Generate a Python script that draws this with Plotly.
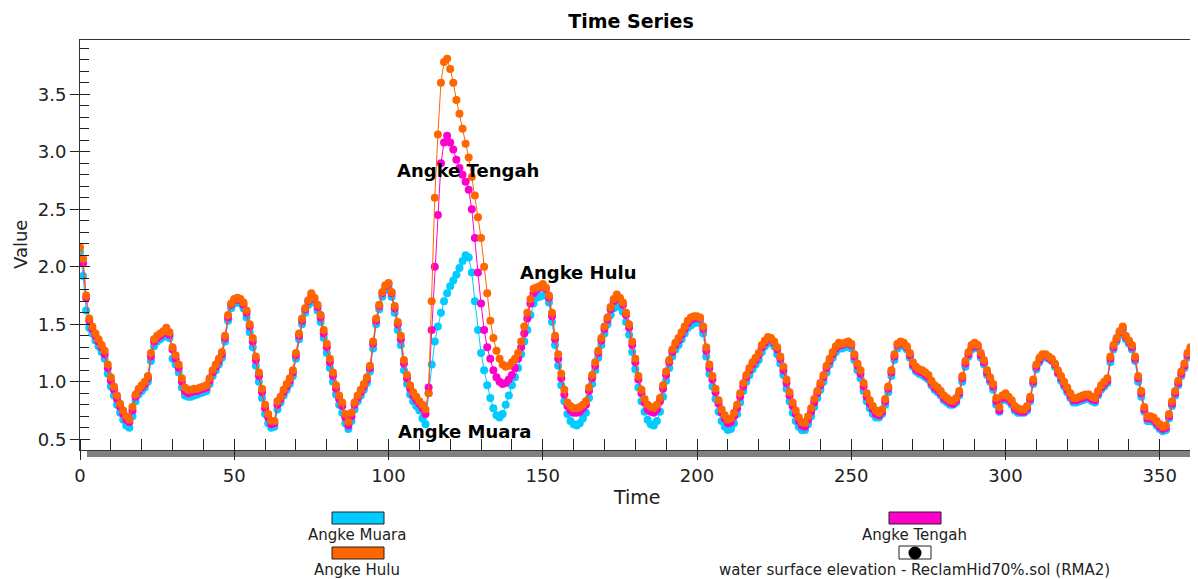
import plotly.graph_objects as go

# ---------------- data ----------------
time = list(range(0, 361))

angke_hulu = [
    2.17, 2.07, 1.75, 1.55, 1.48, 1.42, 1.37, 1.32, 1.27, 1.15,
    1.04, 0.96, 0.88, 0.81, 0.75, 0.70, 0.67, 0.78, 0.89, 0.94,
    0.97, 1.00, 1.05, 1.25, 1.37, 1.40, 1.42, 1.44, 1.47, 1.43,
    1.30, 1.23, 1.15, 1.03, 0.95, 0.93, 0.93, 0.94, 0.94, 0.95,
    0.96, 0.97, 1.03, 1.10, 1.15, 1.20, 1.26, 1.40, 1.58, 1.68,
    1.72, 1.73, 1.72, 1.69, 1.62, 1.50, 1.38, 1.22, 1.08, 0.94,
    0.80, 0.72, 0.66, 0.66, 0.83, 0.87, 0.93, 0.98, 1.03, 1.10,
    1.25, 1.42, 1.55, 1.64, 1.71, 1.77, 1.73, 1.67, 1.58, 1.45,
    1.33, 1.20, 1.08, 0.97, 0.88, 0.82, 0.72, 0.65, 0.73, 0.82,
    0.88, 0.93, 0.98, 1.04, 1.14, 1.35, 1.55, 1.67, 1.78, 1.84,
    1.86, 1.78, 1.66, 1.52, 1.40, 1.19, 1.06, 0.97, 0.91, 0.87,
    0.83, 0.80, 0.76, 0.90, 1.70, 2.60, 3.15, 3.60, 3.78, 3.81,
    3.72, 3.60, 3.45, 3.33, 3.20, 3.07, 2.95, 2.78, 2.62, 2.43,
    2.25, 2.00, 1.77, 1.53, 1.38, 1.27, 1.20, 1.15, 1.13, 1.14,
    1.17, 1.20, 1.25, 1.35, 1.48, 1.60, 1.72, 1.81, 1.82, 1.83,
    1.85, 1.82, 1.75, 1.60, 1.40, 1.24, 1.07, 0.93, 0.82, 0.79,
    0.77, 0.77, 0.78, 0.80, 0.83, 0.95, 1.06, 1.17, 1.27, 1.38,
    1.48, 1.56, 1.65, 1.72, 1.76, 1.73, 1.69, 1.60, 1.50, 1.35,
    1.20, 1.05, 0.93, 0.85, 0.80, 0.78, 0.77, 0.80, 0.86, 0.97,
    1.09, 1.19, 1.28, 1.34, 1.38, 1.43, 1.48, 1.53, 1.56, 1.57,
    1.57, 1.56, 1.48, 1.30, 1.15, 1.05, 0.94, 0.84, 0.76, 0.71,
    0.67, 0.68, 0.73, 0.80, 0.90, 0.99, 1.06, 1.12, 1.17, 1.21,
    1.25, 1.32, 1.36, 1.39, 1.38, 1.35, 1.30, 1.22, 1.13, 1.02,
    0.91, 0.82, 0.75, 0.69, 0.65, 0.64, 0.70, 0.77, 0.85, 0.92,
    0.99, 1.06, 1.14, 1.20, 1.26, 1.31, 1.34, 1.33, 1.34, 1.35,
    1.33, 1.24, 1.16, 1.10, 0.99, 0.90, 0.84, 0.79, 0.75, 0.73,
    0.76, 0.85, 0.96, 1.10, 1.24, 1.33, 1.35, 1.34, 1.31, 1.25,
    1.17, 1.13, 1.11, 1.10, 1.08, 1.06, 1.01, 0.97, 0.95, 0.92,
    0.88, 0.86, 0.84, 0.83, 0.86, 0.92, 1.05, 1.18, 1.26, 1.32,
    1.34, 1.32, 1.25, 1.19, 1.10, 1.04, 0.98, 0.86, 0.78, 0.88,
    0.90, 0.87, 0.84, 0.79, 0.77, 0.76, 0.76, 0.79, 0.87, 1.02,
    1.15, 1.21, 1.24, 1.24, 1.22, 1.20, 1.16, 1.10, 1.05, 1.00,
    0.95, 0.90, 0.86, 0.86, 0.87, 0.88, 0.89, 0.89, 0.87, 0.86,
    0.92, 0.97, 1.00, 1.03, 1.22, 1.32, 1.38, 1.44, 1.48, 1.40,
    1.36, 1.32, 1.22, 1.05, 0.92, 0.78, 0.70, 0.70, 0.69, 0.66,
    0.63, 0.61, 0.62, 0.72, 0.83, 0.92, 1.01, 1.09, 1.16, 1.25, 1.30,
]

angke_tengah = [
    2.05, 2.03, 1.73, 1.53, 1.46, 1.40, 1.35, 1.30, 1.24, 1.12,
    1.01, 0.93, 0.85, 0.78, 0.72, 0.67, 0.65, 0.75, 0.87, 0.92,
    0.95, 0.98, 1.03, 1.22, 1.35, 1.38, 1.40, 1.42, 1.45, 1.41,
    1.28, 1.20, 1.12, 1.00, 0.92, 0.90, 0.91, 0.92, 0.92, 0.93,
    0.94, 0.95, 1.01, 1.08, 1.13, 1.18, 1.24, 1.38, 1.56, 1.67,
    1.71, 1.72, 1.71, 1.67, 1.60, 1.48, 1.35, 1.19, 1.05, 0.91,
    0.77, 0.69, 0.63, 0.64, 0.80, 0.85, 0.91, 0.96, 1.01, 1.08,
    1.23, 1.40, 1.53, 1.63, 1.70, 1.76, 1.72, 1.65, 1.56, 1.42,
    1.30, 1.17, 1.05, 0.94, 0.85, 0.79, 0.69, 0.62, 0.70, 0.80,
    0.86, 0.91, 0.96, 1.02, 1.12, 1.33, 1.53, 1.66, 1.77, 1.83,
    1.85, 1.77, 1.64, 1.50, 1.37, 1.16, 1.03, 0.94, 0.88, 0.84,
    0.81, 0.77, 0.72, 0.95, 1.45, 2.00, 2.45, 2.90, 3.08, 3.14,
    3.08, 3.02, 2.93, 2.86, 2.80, 2.74, 2.67, 2.50, 2.25, 1.95,
    1.68, 1.45, 1.30, 1.20, 1.10, 1.04, 1.00, 0.98, 0.99, 1.02,
    1.06, 1.12, 1.20, 1.30, 1.42, 1.55, 1.68, 1.77, 1.80, 1.82,
    1.84, 1.81, 1.73, 1.57, 1.37, 1.20, 1.03, 0.89, 0.79, 0.75,
    0.73, 0.73, 0.74, 0.77, 0.80, 0.92, 1.03, 1.14, 1.25, 1.36,
    1.46, 1.54, 1.63, 1.70, 1.74, 1.72, 1.67, 1.58, 1.47, 1.32,
    1.17, 1.02, 0.90, 0.82, 0.76, 0.74, 0.73, 0.76, 0.83, 0.94,
    1.06, 1.17, 1.26, 1.32, 1.36, 1.41, 1.46, 1.51, 1.54, 1.55,
    1.56, 1.55, 1.46, 1.27, 1.12, 1.02, 0.91, 0.81, 0.73, 0.68,
    0.64, 0.65, 0.70, 0.77, 0.87, 0.96, 1.04, 1.10, 1.15, 1.19,
    1.23, 1.30, 1.34, 1.37, 1.37, 1.34, 1.28, 1.20, 1.10, 0.99,
    0.88, 0.79, 0.72, 0.66, 0.62, 0.61, 0.67, 0.74, 0.82, 0.90,
    0.97, 1.04, 1.12, 1.18, 1.24, 1.29, 1.32, 1.32, 1.33, 1.34,
    1.32, 1.22, 1.14, 1.07, 0.96, 0.87, 0.81, 0.76, 0.72, 0.71,
    0.74, 0.83, 0.94, 1.08, 1.22, 1.32, 1.34, 1.33, 1.30, 1.23,
    1.15, 1.11, 1.09, 1.08, 1.06, 1.04, 0.99, 0.95, 0.93, 0.90,
    0.86, 0.84, 0.82, 0.81, 0.84, 0.90, 1.03, 1.16, 1.24, 1.30,
    1.33, 1.31, 1.23, 1.17, 1.08, 1.02, 0.96, 0.83, 0.75, 0.86,
    0.88, 0.85, 0.82, 0.77, 0.75, 0.74, 0.74, 0.77, 0.85, 1.00,
    1.13, 1.19, 1.23, 1.23, 1.21, 1.19, 1.15, 1.08, 1.03, 0.98,
    0.93, 0.88, 0.84, 0.84, 0.85, 0.86, 0.87, 0.87, 0.85, 0.84,
    0.90, 0.95, 0.98, 1.01, 1.20, 1.30, 1.37, 1.43, 1.47, 1.39,
    1.35, 1.30, 1.20, 1.03, 0.90, 0.76, 0.68, 0.68, 0.67, 0.64,
    0.61, 0.59, 0.60, 0.70, 0.81, 0.90, 0.99, 1.07, 1.14, 1.23, 1.29,
]

angke_muara = [
    2.13, 1.92, 1.62, 1.47, 1.42, 1.36, 1.31, 1.26, 1.20, 1.07,
    0.96, 0.88, 0.80, 0.73, 0.67, 0.62, 0.60, 0.70, 0.83, 0.89,
    0.92, 0.95, 1.00, 1.18, 1.31, 1.35, 1.37, 1.39, 1.42, 1.38,
    1.20, 1.15, 1.08, 0.95, 0.88, 0.87, 0.87, 0.88, 0.89, 0.90,
    0.91, 0.92, 0.98, 1.05, 1.10, 1.15, 1.21, 1.35, 1.53, 1.64,
    1.68, 1.70, 1.68, 1.64, 1.56, 1.43, 1.30, 1.14, 1.00, 0.86,
    0.72, 0.64, 0.60, 0.61, 0.76, 0.82, 0.88, 0.93, 0.98, 1.05,
    1.20, 1.37, 1.50, 1.60, 1.67, 1.73, 1.69, 1.62, 1.52, 1.38,
    1.25, 1.12, 1.00, 0.89, 0.80, 0.73, 0.64, 0.59, 0.66, 0.76,
    0.83, 0.88, 0.93, 0.99, 1.09, 1.29, 1.50, 1.63, 1.74, 1.80,
    1.82, 1.74, 1.60, 1.45, 1.32, 1.10, 0.98, 0.89, 0.83, 0.79,
    0.75, 0.68, 0.63, 0.90, 1.15, 1.35, 1.48, 1.60, 1.70, 1.77,
    1.83, 1.88, 1.93, 1.99, 2.05, 2.10, 2.08, 1.95, 1.70, 1.45,
    1.25, 1.10, 0.97, 0.86, 0.77, 0.71, 0.69, 0.72, 0.80, 0.88,
    0.97, 1.04, 1.12, 1.24, 1.35, 1.45, 1.58, 1.68, 1.73, 1.74,
    1.75, 1.75, 1.69, 1.52, 1.32, 1.14, 0.97, 0.83, 0.72, 0.66,
    0.63, 0.62, 0.64, 0.68, 0.73, 0.86, 0.98, 1.10, 1.21, 1.32,
    1.42, 1.50, 1.58, 1.64, 1.67, 1.65, 1.61, 1.52, 1.41, 1.26,
    1.11, 0.95, 0.83, 0.74, 0.67, 0.63, 0.62, 0.66, 0.74, 0.87,
    1.01, 1.12, 1.22, 1.28, 1.32, 1.37, 1.42, 1.47, 1.49, 1.51,
    1.52, 1.51, 1.42, 1.22, 1.07, 0.96, 0.85, 0.74, 0.66, 0.61,
    0.58, 0.59, 0.64, 0.72, 0.82, 0.92, 1.00, 1.06, 1.11, 1.15,
    1.19, 1.26, 1.31, 1.34, 1.34, 1.31, 1.24, 1.16, 1.06, 0.94,
    0.83, 0.73, 0.66, 0.61, 0.58, 0.58, 0.63, 0.70, 0.78, 0.86,
    0.93, 1.00, 1.08, 1.15, 1.21, 1.26, 1.29, 1.29, 1.30, 1.31,
    1.29, 1.19, 1.10, 1.03, 0.92, 0.83, 0.77, 0.72, 0.69, 0.69,
    0.72, 0.80, 0.91, 1.05, 1.19, 1.29, 1.32, 1.31, 1.28, 1.21,
    1.13, 1.09, 1.07, 1.06, 1.04, 1.02, 0.97, 0.93, 0.91, 0.88,
    0.84, 0.82, 0.80, 0.80, 0.82, 0.88, 1.00, 1.13, 1.22, 1.28,
    1.31, 1.29, 1.21, 1.15, 1.06, 1.00, 0.93, 0.80, 0.74, 0.84,
    0.86, 0.83, 0.80, 0.75, 0.73, 0.73, 0.73, 0.75, 0.83, 0.98,
    1.11, 1.17, 1.21, 1.22, 1.20, 1.18, 1.13, 1.07, 1.01, 0.96,
    0.91, 0.86, 0.82, 0.82, 0.83, 0.84, 0.85, 0.85, 0.83, 0.82,
    0.88, 0.93, 0.96, 0.99, 1.17, 1.28, 1.35, 1.41, 1.45, 1.37,
    1.33, 1.28, 1.18, 1.00, 0.87, 0.74, 0.66, 0.66, 0.65, 0.62,
    0.59, 0.57, 0.58, 0.68, 0.79, 0.88, 0.97, 1.05, 1.12, 1.21, 1.28,
]

series_names = ["Angke Muara", "Angke Tengah", "Angke Hulu"]
series_values = [angke_muara, angke_tengah, angke_hulu]
series_colors = ["#00CCFF", "#FF00CC", "#FF6600"]

y_major_ticks = [0.5, 1.0, 1.5, 2.0, 2.5, 3.0, 3.5]
y_major_labels = ["0.5", "1.0", "1.5", "2.0", "2.5", "3.0", "3.5"]
x_major_ticks = [0, 50, 100, 150, 200, 250, 300, 350]
x_major_labels = ["0", "50", "100", "150", "200", "250", "300", "350"]

# labels on the chart: (text, time, value)
curve_labels = [
    ("Angke Tengah", 125.9, 2.84),
    ("Angke Hulu", 161.3, 1.95),
    ("Angke Muara", 124.7, 0.57),
]

# ---------------- layout geometry (pixels of the 1198x579 window) ----------------
OFF = 8  # default body margin of the html page
W, H = 1198 - OFF, 579 - OFF
L, R, T, B = 80, 1194, 40, 450  # plot area edges in window pixels
XR = [0, 361.1]
YR = [0.407, 3.972]


def px(x):
    return (x - L) / (R - L)


def py(y):
    return (B - y) / (B - T)


fig = go.Figure()

for name, vals, col in zip(series_names, series_values, series_colors):
    fig.add_trace(go.Scatter(
        x=time, y=vals, name=name, mode="lines+markers",
        line=dict(color=col, width=1),
        marker=dict(color=col, size=8, symbol="circle", line=dict(width=0)),
        showlegend=False, hoverinfo="x+y+name",
    ))

# empty trace for overlay axes (inside parts of crossing major ticks)
fig.add_trace(go.Scatter(x=[None], y=[None], xaxis="x2", yaxis="y2",
                         showlegend=False, hoverinfo="skip"))

tick_font = dict(family="DejaVu Sans", size=18, color="#222222")

fig.update_layout(
    width=W, height=H,
    margin=dict(l=L - OFF, r=W - (R - OFF), t=T - OFF, b=H - (B - OFF), pad=0),
    paper_bgcolor="white", plot_bgcolor="rgba(0,0,0,0)",
    showlegend=False,
    title=dict(text="<b>Time Series</b>", x=(631 - OFF) / W, xanchor="center",
               y=1 - (21 - OFF) / H, yanchor="middle",
               font=dict(family="DejaVu Sans", size=19, color="black")),
    xaxis=dict(range=XR, tickmode="array", tickvals=x_major_ticks,
               ticktext=x_major_labels, ticks="outside", ticklen=9,
               tickcolor="#222", tickwidth=1,
               minor=dict(dtick=10, tick0=0, ticks="inside", ticklen=11,
                          tickcolor="#222", tickwidth=1),
               showline=True, linecolor="#333333", linewidth=1, mirror=True,
               showgrid=False, zeroline=False, tickfont=tick_font),
    yaxis=dict(range=YR, tickmode="array", tickvals=y_major_ticks,
               ticktext=y_major_labels, ticks="outside", ticklen=9,
               tickcolor="#222", tickwidth=1,
               minor=dict(dtick=0.1, tick0=0, ticks="inside", ticklen=9,
                          tickcolor="#222", tickwidth=1),
               showline=True, linecolor="#333333", linewidth=1, mirror=True,
               showgrid=False, zeroline=False, tickfont=tick_font),
    xaxis2=dict(range=XR, overlaying="x", anchor="y2", side="bottom",
                tickmode="array", tickvals=x_major_ticks, ticks="inside",
                ticklen=11, tickcolor="#222", showticklabels=False,
                showline=False, showgrid=False, zeroline=False),
    yaxis2=dict(range=YR, overlaying="y", anchor="x2", side="left",
                tickmode="array", tickvals=y_major_ticks, ticks="inside",
                ticklen=10, tickcolor="#222", showticklabels=False,
                showline=False, showgrid=False, zeroline=False),
)

shapes = []
# drop shadow of plot frame
shapes.append(dict(type="rect", xref="paper", yref="paper", layer="below",
                   x0=px(87), x1=px(1200), y0=py(457), y1=py(47),
                   fillcolor="#808080", line=dict(width=0)))
shapes.append(dict(type="rect", xref="paper", yref="paper", layer="below",
                   x0=0, x1=1, y0=0, y1=1,
                   fillcolor="white", line=dict(width=0)))

# custom legend
legend_items = [
    ("Angke Muara", "#00CCFF", 332, 384, 512, 524, 357, 535),
    ("Angke Hulu", "#FF6600", 332, 384, 547, 559, 357, 570),
    ("Angke Tengah", "#FF00CC", 889, 941, 512, 524, 915, 535),
]
annotations = []
for label, col, x0, x1, y0, y1, lx, ly in legend_items:
    shapes.append(dict(type="rect", xref="paper", yref="paper",
                       x0=px(x0), x1=px(x1), y0=py(y1), y1=py(y0),
                       fillcolor=col, line=dict(color="#222222", width=1)))
    annotations.append(dict(text=label, xref="paper", yref="paper",
                            x=px(lx), y=py(ly), xanchor="center", yanchor="middle",
                            showarrow=False,
                            font=dict(family="DejaVu Sans", size=15, color="#222222")))

# marker legend item
shapes.append(dict(type="rect", xref="paper", yref="paper",
                   x0=px(899), x1=px(931), y0=py(559), y1=py(546),
                   fillcolor="white", line=dict(color="#222222", width=1)))
shapes.append(dict(type="circle", xref="paper", yref="paper",
                   x0=px(908.5), x1=px(921.5), y0=py(559.5), y1=py(546.5),
                   fillcolor="black", line=dict(color="black", width=0)))
annotations.append(dict(text="water surface elevation - ReclamHid70%.sol (RMA2)",
                        xref="paper", yref="paper", x=px(915), y=py(570),
                        xanchor="center", yanchor="middle", showarrow=False,
                        font=dict(family="DejaVu Sans", size=15, color="#222222")))

# axis titles
annotations.append(dict(text="Value", xref="paper", yref="paper",
                        x=px(20), y=py(245), textangle=-90,
                        xanchor="center", yanchor="middle", showarrow=False,
                        font=dict(family="DejaVu Sans", size=18, color="#222222")))
annotations.append(dict(text="Time", xref="paper", yref="paper",
                        x=px(637), y=py(497),
                        xanchor="center", yanchor="middle", showarrow=False,
                        font=dict(family="DejaVu Sans", size=19, color="#222222")))

# curve labels
for text, tx, ty in curve_labels:
    annotations.append(dict(text="<b>%s</b>" % text, x=tx, y=ty, xref="x", yref="y",
                            xanchor="center", yanchor="middle", showarrow=False,
                            font=dict(family="DejaVu Sans", size=18, color="black")))

fig.update_layout(shapes=shapes, annotations=annotations)

fig.write_html("out.html")
